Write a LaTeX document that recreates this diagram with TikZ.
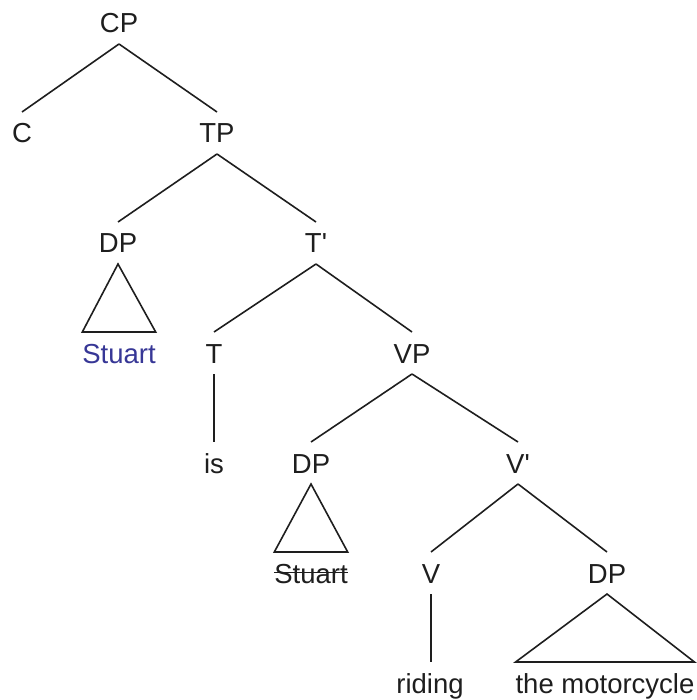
\documentclass[tikz,border=0pt]{standalone}
\usepackage{fontspec}
\setmainfont{Liberation Sans}
\definecolor{ink}{RGB}{30,30,30}
\definecolor{namecol}{RGB}{55,55,150}
\begin{document}
\begin{tikzpicture}[x=1pt,y=-1pt,
  lbl/.style={anchor=base,inner sep=0pt,outer xsep=0pt,outer ysep=11pt,
    text height=20pt,text depth=0pt,font=\fontsize{27.5}{30}\selectfont,text=ink},
  branch/.style={draw=ink,line width=1.6pt},
  tri/.style={draw=ink,line width=1.6pt,line join=miter}]
\useasboundingbox (0,0) rectangle (696,700);

% category labels (placed by baseline)
\node[lbl] (CP)  at (119,33)  {CP};
\node[lbl] (C)   at (22,143)  {C};
\node[lbl] (TP)  at (217,143) {TP};
\node[lbl] (DP1) at (118,253) {DP};
\node[lbl] (Tb)  at (316,253) {T\textquotesingle};
\node[lbl,text=namecol] (Stu1) at (119,363) {Stuart};
\node[lbl] (T)   at (214,363) {T};
\node[lbl] (VP)  at (412,363) {VP};
\node[lbl] (is)  at (214,473) {is};
\node[lbl] (DP2) at (311,473) {DP};
\node[lbl] (Vb)  at (518,473) {V\textquotesingle};
\node[lbl] (Stu2) at (311,583) {Stuart};
\node[lbl] (V)   at (431,583) {V};
\node[lbl] (DP3) at (607,583) {DP};
\node[lbl] (rid) at (430,693) {riding};
\node[lbl] (moto) at (605,693) {the motorcycle};

% branches
\draw[branch] (CP.south) -- (C.north);
\draw[branch] (CP.south) -- (TP.north);
\draw[branch] (TP.south) -- (DP1.north);
\draw[branch] (TP.south) -- (Tb.north);
\draw[branch] (Tb.south) -- (T.north);
\draw[branch] (Tb.south) -- (VP.north);
\draw[branch] (T.south) -- (T.south |- is.north);
\draw[branch] (VP.south) -- (DP2.north);
\draw[branch] (VP.south) -- (Vb.north);
\draw[branch] (Vb.south) -- (V.north);
\draw[branch] (Vb.south) -- (DP3.north);
\draw[branch] (V.south) -- (V.south |- rid.north);

% triangles over unanalysed phrases
\draw[tri] (DP1.south) -- (Stu1.north west) -- (Stu1.north east) -- cycle;
\draw[tri] (DP2.south) -- (Stu2.north west) -- (Stu2.north east) -- cycle;
\draw[tri] (DP3.south) -- (moto.north west) -- (moto.north east) -- cycle;

% struck-out lower copy
\draw[draw=ink,line width=1pt] ([yshift=11pt]Stu2.base west) -- ([yshift=11pt]Stu2.base east);
\end{tikzpicture}
\end{document}
